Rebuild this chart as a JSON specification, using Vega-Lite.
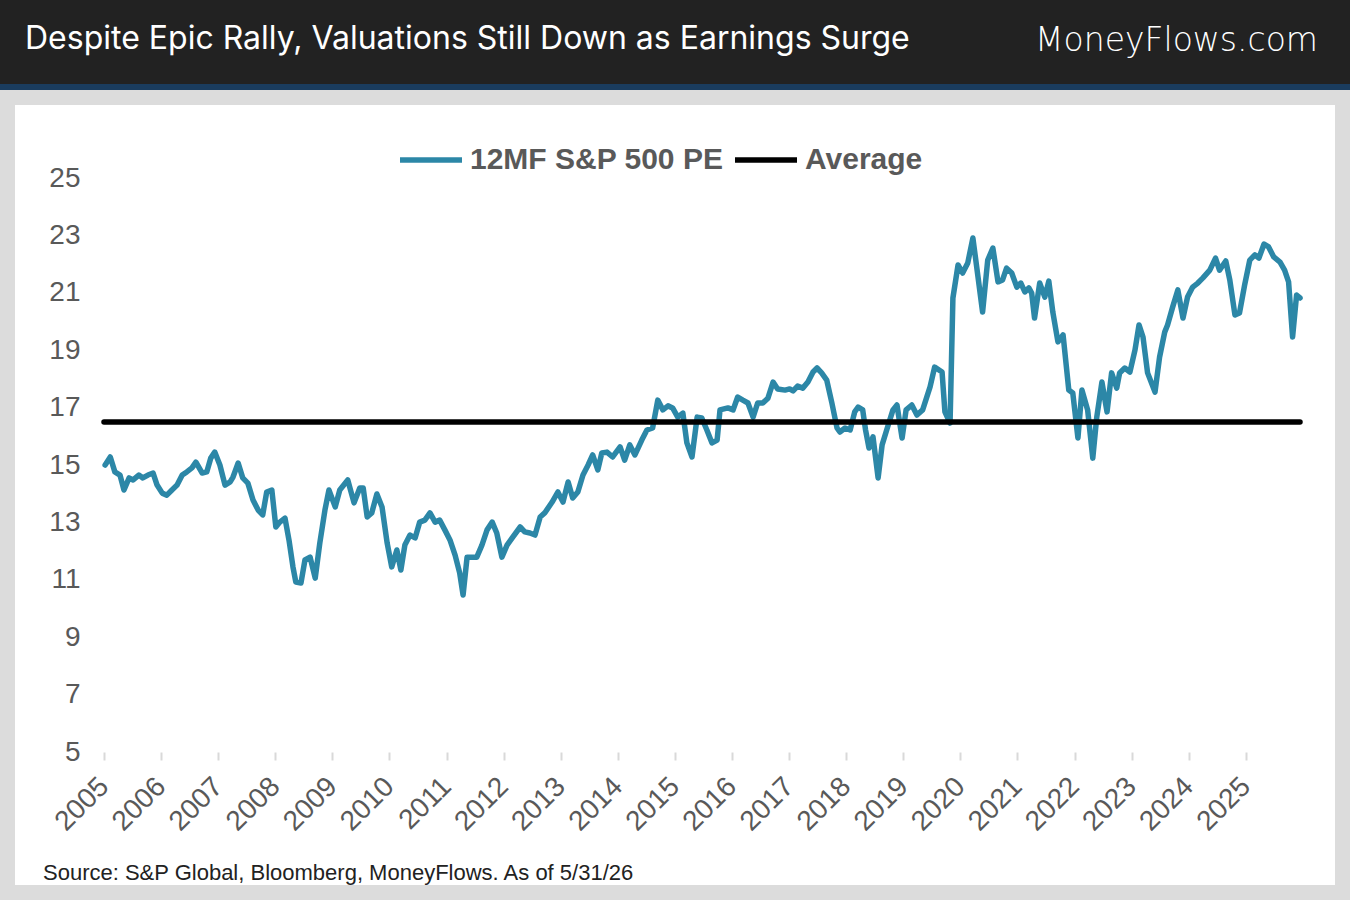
{
  "$schema": "https://vega.github.io/schema/vega-lite/v6.json",
  "background": "#dcdcdc",
  "padding": {"left": 0, "right": 0, "top": 0, "bottom": 15},
  "spacing": 15,
  "center": true,
  "datasets": {
    "pe": [
      {"year":2005.02,"value":15.00},{"year":2005.11,"value":15.28},{"year":2005.19,"value":14.76},{"year":2005.28,"value":14.65},{"year":2005.35,"value":14.13},{"year":2005.44,"value":14.55},{"year":2005.51,"value":14.48},{"year":2005.61,"value":14.65},{"year":2005.68,"value":14.55},{"year":2005.77,"value":14.65},{"year":2005.86,"value":14.72},{"year":2005.93,"value":14.30},
      {"year":2006.02,"value":14.02},{"year":2006.10,"value":13.95},{"year":2006.19,"value":14.13},{"year":2006.28,"value":14.30},{"year":2006.37,"value":14.65},{"year":2006.45,"value":14.76},{"year":2006.54,"value":14.90},{"year":2006.61,"value":15.10},{"year":2006.72,"value":14.72},{"year":2006.80,"value":14.76},{"year":2006.87,"value":15.24},{"year":2006.94,"value":15.45},
      {"year":2007.03,"value":15.00},{"year":2007.12,"value":14.30},{"year":2007.21,"value":14.41},{"year":2007.26,"value":14.58},{"year":2007.35,"value":15.07},{"year":2007.43,"value":14.55},{"year":2007.52,"value":14.37},{"year":2007.61,"value":13.78},{"year":2007.70,"value":13.43},{"year":2007.78,"value":13.26},{"year":2007.85,"value":14.06},{"year":2007.94,"value":14.13},
      {"year":2008.01,"value":12.84},{"year":2008.08,"value":13.01},{"year":2008.17,"value":13.15},{"year":2008.24,"value":12.39},{"year":2008.31,"value":11.45},{"year":2008.36,"value":10.92},{"year":2008.45,"value":10.89},{"year":2008.52,"value":11.69},{"year":2008.61,"value":11.79},{"year":2008.70,"value":11.06},{"year":2008.78,"value":12.28},{"year":2008.87,"value":13.43},{"year":2008.94,"value":14.13},
      {"year":2009.05,"value":13.54},{"year":2009.13,"value":14.13},{"year":2009.27,"value":14.48},{"year":2009.38,"value":13.68},{"year":2009.48,"value":14.20},{"year":2009.54,"value":14.20},{"year":2009.61,"value":13.19},{"year":2009.69,"value":13.33},{"year":2009.78,"value":13.99},{"year":2009.87,"value":13.54},{"year":2009.96,"value":12.28},
      {"year":2010.04,"value":11.45},{"year":2010.13,"value":12.04},{"year":2010.20,"value":11.34},{"year":2010.27,"value":12.21},{"year":2010.36,"value":12.56},{"year":2010.45,"value":12.46},{"year":2010.53,"value":13.01},{"year":2010.62,"value":13.08},{"year":2010.71,"value":13.33},{"year":2010.80,"value":13.01},{"year":2010.88,"value":13.08},{"year":2010.97,"value":12.74},
      {"year":2011.06,"value":12.39},{"year":2011.15,"value":11.86},{"year":2011.23,"value":11.24},{"year":2011.29,"value":10.47},{"year":2011.36,"value":11.79},{"year":2011.44,"value":11.79},{"year":2011.53,"value":11.79},{"year":2011.62,"value":12.21},{"year":2011.71,"value":12.74},{"year":2011.80,"value":13.01},{"year":2011.88,"value":12.63},{"year":2011.97,"value":11.79},
      {"year":2012.06,"value":12.21},{"year":2012.16,"value":12.49},{"year":2012.29,"value":12.84},{"year":2012.37,"value":12.67},{"year":2012.46,"value":12.63},{"year":2012.55,"value":12.56},{"year":2012.64,"value":13.19},{"year":2012.72,"value":13.33},{"year":2012.85,"value":13.71},{"year":2012.95,"value":14.06},
      {"year":2013.04,"value":13.71},{"year":2013.13,"value":14.41},{"year":2013.21,"value":13.85},{"year":2013.30,"value":14.06},{"year":2013.39,"value":14.65},{"year":2013.48,"value":15.00},{"year":2013.56,"value":15.35},{"year":2013.65,"value":14.83},{"year":2013.72,"value":15.42},{"year":2013.81,"value":15.45},{"year":2013.91,"value":15.28},
      {"year":2014.04,"value":15.63},{"year":2014.12,"value":15.17},{"year":2014.21,"value":15.70},{"year":2014.30,"value":15.35},{"year":2014.42,"value":15.87},{"year":2014.51,"value":16.22},{"year":2014.61,"value":16.29},{"year":2014.70,"value":17.26},{"year":2014.79,"value":16.92},{"year":2014.88,"value":17.06},{"year":2014.96,"value":16.99},
      {"year":2015.05,"value":16.67},{"year":2015.14,"value":16.81},{"year":2015.21,"value":15.77},{"year":2015.30,"value":15.28},{"year":2015.39,"value":16.67},{"year":2015.47,"value":16.64},{"year":2015.56,"value":16.22},{"year":2015.65,"value":15.77},{"year":2015.74,"value":15.87},{"year":2015.79,"value":16.92},{"year":2015.93,"value":16.99},
      {"year":2016.02,"value":16.92},{"year":2016.10,"value":17.37},{"year":2016.19,"value":17.26},{"year":2016.28,"value":17.16},{"year":2016.37,"value":16.67},{"year":2016.45,"value":17.16},{"year":2016.54,"value":17.16},{"year":2016.63,"value":17.33},{"year":2016.72,"value":17.89},{"year":2016.80,"value":17.65},{"year":2016.93,"value":17.61},
      {"year":2017.01,"value":17.65},{"year":2017.07,"value":17.58},{"year":2017.15,"value":17.75},{"year":2017.24,"value":17.68},{"year":2017.33,"value":17.89},{"year":2017.42,"value":18.24},{"year":2017.49,"value":18.38},{"year":2017.57,"value":18.21},{"year":2017.66,"value":17.96},{"year":2017.75,"value":17.16},{"year":2017.84,"value":16.29},{"year":2017.89,"value":16.15},{"year":2017.98,"value":16.29},
      {"year":2018.07,"value":16.22},{"year":2018.15,"value":16.85},{"year":2018.21,"value":17.02},{"year":2018.29,"value":16.92},{"year":2018.34,"value":16.22},{"year":2018.40,"value":15.59},{"year":2018.47,"value":15.98},{"year":2018.56,"value":14.55},{"year":2018.63,"value":15.70},{"year":2018.71,"value":16.22},{"year":2018.82,"value":16.92},{"year":2018.89,"value":17.09},{"year":2018.98,"value":15.94},
      {"year":2019.05,"value":16.92},{"year":2019.15,"value":17.09},{"year":2019.24,"value":16.74},{"year":2019.34,"value":16.92},{"year":2019.47,"value":17.72},{"year":2019.55,"value":18.41},{"year":2019.68,"value":18.24},{"year":2019.73,"value":16.85},{"year":2019.82,"value":16.46},{"year":2019.87,"value":20.82},{"year":2019.96,"value":21.97},
      {"year":2020.04,"value":21.69},{"year":2020.13,"value":22.04},{"year":2020.22,"value":22.91},{"year":2020.31,"value":21.55},{"year":2020.39,"value":20.33},{"year":2020.48,"value":22.14},{"year":2020.57,"value":22.56},{"year":2020.66,"value":21.38},{"year":2020.74,"value":21.45},{"year":2020.81,"value":21.86},{"year":2020.90,"value":21.69},{"year":2020.99,"value":21.20},
      {"year":2021.06,"value":21.34},{"year":2021.13,"value":21.03},{"year":2021.20,"value":21.17},{"year":2021.25,"value":20.99},{"year":2021.30,"value":20.12},{"year":2021.39,"value":21.34},{"year":2021.48,"value":20.85},{"year":2021.55,"value":21.41},{"year":2021.62,"value":20.33},{"year":2021.71,"value":19.29},{"year":2021.80,"value":19.53},{"year":2021.90,"value":17.61},{"year":2021.97,"value":17.51},
      {"year":2022.06,"value":15.94},{"year":2022.13,"value":17.61},{"year":2022.23,"value":16.92},{"year":2022.32,"value":15.24},{"year":2022.39,"value":16.67},{"year":2022.48,"value":17.89},{"year":2022.57,"value":16.85},{"year":2022.65,"value":18.21},{"year":2022.74,"value":17.68},{"year":2022.79,"value":18.21},{"year":2022.88,"value":18.38},{"year":2022.97,"value":18.24},
      {"year":2023.06,"value":19.01},{"year":2023.13,"value":19.88},{"year":2023.20,"value":19.46},{"year":2023.28,"value":18.21},{"year":2023.41,"value":17.54},{"year":2023.49,"value":18.76},{"year":2023.58,"value":19.63},{"year":2023.63,"value":19.88},{"year":2023.72,"value":20.51},{"year":2023.81,"value":21.10},{"year":2023.90,"value":20.12},{"year":2023.98,"value":20.85},
      {"year":2024.07,"value":21.20},{"year":2024.16,"value":21.34},{"year":2024.25,"value":21.52},{"year":2024.37,"value":21.79},{"year":2024.47,"value":22.21},{"year":2024.54,"value":21.79},{"year":2024.65,"value":22.11},{"year":2024.72,"value":21.45},{"year":2024.81,"value":20.23},{"year":2024.89,"value":20.30},{"year":2024.98,"value":21.27},
      {"year":2025.07,"value":22.14},{"year":2025.16,"value":22.32},{"year":2025.23,"value":22.21},{"year":2025.32,"value":22.70},{"year":2025.40,"value":22.60},{"year":2025.49,"value":22.25},{"year":2025.60,"value":22.07},{"year":2025.68,"value":21.79},{"year":2025.75,"value":21.38},{"year":2025.82,"value":19.46},{"year":2025.89,"value":20.92},{"year":2025.95,"value":20.82}
    ],
    "average": [
      {"year": 2005.0, "value": 16.5},
      {"year": 2025.95, "value": 16.5}
    ]
  },
  "vconcat": [
    {
      "spacing": 0,
      "vconcat": [
        {
          "spacing": 0,
          "hconcat": [
            {
              "width": 1000,
              "height": 84,
              "view": {"fill": "#222222", "stroke": null},
              "title": {
                "text": "Despite Epic Rally, Valuations Still Down as Earnings Surge",
                "orient": "top",
                "anchor": "start",
                "offset": 0,
                "dx": 25,
                "dy": 81,
                "baseline": "alphabetic",
                "font": "Inter",
                "fontSize": 32,
                "fontWeight": "normal",
                "color": "#ffffff"
              },
              "data": {"values": []},
              "mark": "point"
            },
            {
              "width": 350,
              "height": 84,
              "view": {"fill": "#222222", "stroke": null},
              "title": {
                "text": "MoneyFlows.com",
                "orient": "top",
                "anchor": "end",
                "offset": 0,
                "dx": -32,
                "dy": 84,
                "baseline": "alphabetic",
                "font": "DejaVu Sans",
                "fontSize": 33,
                "fontWeight": 200,
                "color": "#ffffff"
              },
              "data": {"values": []},
              "mark": "point"
            }
          ]
        },
        {
          "width": 1350,
          "height": 6,
          "view": {"fill": "#1a3c5e", "stroke": null},
          "data": {"values": []},
          "mark": "point"
        }
      ]
    },
    {
      "width": 1320,
      "height": 780,
      "view": {"fill": "#ffffff", "stroke": null},
      "title": {
        "text": "Source: S&P Global, Bloomberg, MoneyFlows. As of 5/31/26",
        "orient": "bottom",
        "anchor": "start",
        "offset": -22,
        "dx": 28,
        "font": "Liberation Sans",
        "fontSize": 22,
        "fontWeight": "normal",
        "color": "#222222"
      },
      "layer": [
        {
          "mark": {"type": "rule", "color": "#d9d9d9", "strokeWidth": 2.5},
          "encoding": {
            "x": {"datum": 2005, "type": "quantitative"},
            "x2": {"datum": 2025.95},
            "y": {"datum": 5, "type": "quantitative"}
          }
        },
        {
          "data": {"name": "pe"},
          "mark": {"type": "line", "strokeWidth": 5.5, "strokeJoin": "round", "strokeCap": "round"},
          "encoding": {
            "x": {
              "field": "year",
              "type": "quantitative",
              "scale": {"domain": [2003.441, 2026.563], "nice": false, "zero": false},
              "axis": {
                "values": [2005,2006,2007,2008,2009,2010,2011,2012,2013,2014,2015,2016,2017,2018,2019,2020,2021,2022,2023,2024,2025],
                "format": "d",
                "title": null,
                "domain": false,
                "grid": false,
                "ticks": true,
                "tickSize": 8,
                "tickWidth": 2,
                "tickColor": "#d9d9d9",
                "offset": -133,
                "labelAngle": -45,
                "labelAlign": "right",
                "labelBaseline": "middle",
                "labelPadding": 22,
                "labelFont": "Liberation Sans",
                "labelFontSize": 28,
                "labelColor": "#595959",
                "labelOverlap": false,
                "labelFlush": false,
                "labelBound": false
              }
            },
            "y": {
              "field": "value",
              "type": "quantitative",
              "scale": {"domain": [0.366, 27.544], "nice": false, "zero": false},
              "axis": {
                "values": [5,7,9,11,13,15,17,19,21,23,25],
                "title": null,
                "domain": false,
                "grid": false,
                "ticks": false,
                "tickSize": 0,
                "offset": -89,
                "labelPadding": 24,
                "labelFont": "Liberation Sans",
                "labelFontSize": 28,
                "labelColor": "#595959"
              }
            },
            "color": {
              "datum": "12MF S&P 500 PE",
              "type": "nominal",
              "scale": {"domain": ["12MF S&P 500 PE", "Average"], "range": ["#2C87A7", "#000000"]},
              "legend": {
                "title": null,
                "orient": "none",
                "legendX": 397,
                "legendY": 126,
                "direction": "horizontal",
                "padding": 0,
                "symbolType": "stroke",
                "symbolSize": 3844,
                "symbolStrokeWidth": 5.5,
                "labelFont": "Liberation Sans",
                "labelFontSize": 30,
                "labelFontWeight": "bold",
                "labelColor": "#595959",
                "labelOffset": 5,
                "labelLimit": 400,
                "columnPadding": 0
              }
            }
          }
        },
        {
          "data": {"name": "average"},
          "mark": {"type": "line", "strokeWidth": 5.5, "strokeCap": "round"},
          "encoding": {
            "x": {"field": "year", "type": "quantitative"},
            "y": {"field": "value", "type": "quantitative"},
            "color": {"datum": "Average", "type": "nominal"}
          }
        }
      ]
    }
  ]
}
